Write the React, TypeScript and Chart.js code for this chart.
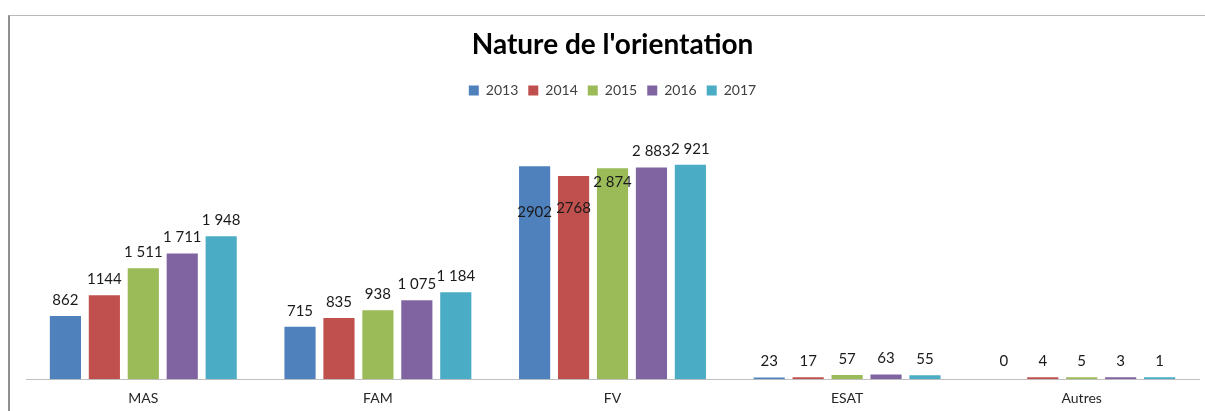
import React, { useEffect, useRef } from "react";
import { Chart, registerables } from "chart.js";

Chart.register(...registerables);

const categories = ["MAS", "FAM", "FV", "ESAT", "Autres"];
const years = ["2013", "2014", "2015", "2016", "2017"];
const values2013 = [862, 715, 2902, 23, 0];
const values2014 = [1144, 835, 2768, 17, 4];
const values2015 = [1511, 938, 2874, 57, 5];
const values2016 = [1711, 1075, 2883, 63, 3];
const values2017 = [1948, 1184, 2921, 55, 1];
const labels2013 = ["862", "715", "2902", "23", "0"];
const labels2014 = ["1144", "835", "2768", "17", "4"];
const labels2015 = ["1 511", "938", "2 874", "57", "5"];
const labels2016 = ["1 711", "1 075", "2 883", "63", "3"];
const labels2017 = ["1 948", "1 184", "2 921", "55", "1"];
const colors = ["#4F81BD", "#C0504D", "#9BBB59", "#8064A2", "#4BACC6"];

const seriesValues = [values2013, values2014, values2015, values2016, values2017];
const seriesLabels = [labels2013, labels2014, labels2015, labels2016, labels2017];

const FONT = "Lato, 'Liberation Sans', sans-serif";

// Labels that Excel placed inside the bar (offset below bar top)
const insideOffsets: Record<string, number> = { "0,2": 46, "1,2": 32, "2,2": 14 };

const dataLabelPlugin = {
  id: "dataLabels",
  afterDatasetsDraw(chart: any) {
    const ctx = chart.ctx;
    ctx.save();
    ctx.font = `15px ${FONT}`;
    ctx.fillStyle = "#1a1a1a";
    ctx.textAlign = "center";
    ctx.textBaseline = "middle";
    chart.data.datasets.forEach((ds: any, di: number) => {
      const meta = chart.getDatasetMeta(di);
      meta.data.forEach((bar: any, i: number) => {
        const text = seriesLabels[di][i];
        const key = `${di},${i}`;
        const y = key in insideOffsets ? bar.y + insideOffsets[key] : Math.min(bar.y, chart.chartArea.bottom - 2) - 16;
        ctx.fillText(text, bar.x, y);
      });
    });
    ctx.restore();
  },
};

export default function App() {
  const ref = useRef<HTMLCanvasElement | null>(null);
  useEffect(() => {
    if (!ref.current) return;
    const chart = new Chart(ref.current, {
      type: "bar",
      data: {
        labels: categories,
        datasets: years.map((y, i) => ({
          label: y,
          data: seriesValues[i],
          backgroundColor: colors[i],
          borderWidth: 0,
          minBarLength: i === 0 ? 0 : 2,
          categoryPercentage: 0.83,
          barPercentage: 0.8,
        })),
      },
      options: {
        responsive: false,
        animation: false,
        layout: { padding: { left: 26, right: 6, top: 0, bottom: -7 } },
        plugins: {
          title: {
            display: true,
            text: "Nature de l'orientation",
            color: "#000",
            font: { family: FONT, size: 28, weight: "bold" },
            padding: { top: 28, bottom: 12 },
          },
          legend: {
            display: true,
            labels: {
              boxWidth: 10,
              boxHeight: 10,
              color: "#404040",
              font: { family: FONT, size: 14 },
              padding: 10,
            },
          },
          tooltip: { enabled: false },
        },
        scales: {
          x: {
            grid: { display: false, drawTicks: false },
            border: { display: true, color: "#c0c0c0", width: 1 },
            ticks: { color: "#262626", font: { family: FONT, size: 14 }, padding: 11 },
          },
          y: {
            display: false,
            min: 0,
            max: 3700,
          },
        },
      },
      plugins: [dataLabelPlugin],
    });
    return () => chart.destroy();
  }, []);
  return (
    <div style={{ position: "fixed", left: 0, top: 0, width: 1205, height: 411, background: "#fff", overflow: "hidden" }}>
      <div
        style={{
          position: "absolute",
          left: 8,
          top: 15,
          width: 1300,
          height: 500,
          borderTop: "1px solid #b9b9b9",
          borderLeft: "2px solid #8f8f8f",
        }}
      />
      <canvas ref={ref} width={1205} height={411} style={{ position: "absolute", left: 0, top: 0, display: "block" }} />
    </div>
  );
}
